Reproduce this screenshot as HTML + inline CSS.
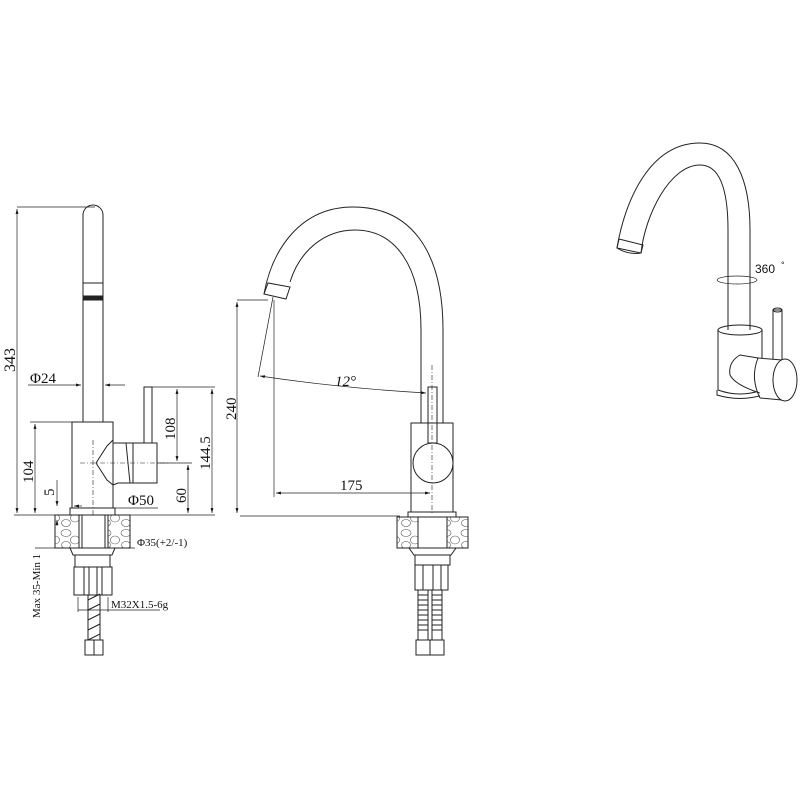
<!DOCTYPE html>
<html><head><meta charset="utf-8"><style>
html,body{margin:0;padding:0;background:#fff}
svg{display:block}
text{font-family:"Liberation Serif",serif;fill:#111}
</style></head><body>
<svg width="800" height="800" viewBox="0 0 800 800" xmlns="http://www.w3.org/2000/svg">
<defs>
<marker id="a" viewBox="0 0 10 10" refX="10" refY="5" markerWidth="7" markerHeight="7" orient="auto-start-reverse"><path d="M0,2 L10,5 L0,8 z" fill="#111"/></marker>
<pattern id="peb" width="20" height="22" patternUnits="userSpaceOnUse">
<rect width="20" height="22" fill="#fff"/>
<ellipse cx="6" cy="5" rx="5" ry="3.5" fill="none" stroke="#555" stroke-width="0.6"/>
<ellipse cx="15" cy="12" rx="4.5" ry="4" fill="none" stroke="#555" stroke-width="0.6"/>
<ellipse cx="6" cy="17" rx="4.5" ry="3.5" fill="none" stroke="#555" stroke-width="0.6"/>
</pattern>
</defs>
<g fill="none" stroke="#222" stroke-width="1">
<!-- LEFT VIEW -->
<path d="M83,422 V215 A10,10 0 0 1 103,215 V422"/>
<line x1="83" y1="283" x2="103" y2="283"/>
<rect x="83" y="296" width="20" height="4" fill="#222"/>
<rect x="72" y="422" width="41" height="86"/>
<line x1="93" y1="440" x2="93" y2="520" stroke-dasharray="5,2,1,2" stroke-width="0.6"/>
<line x1="80" y1="463" x2="170" y2="463" stroke-dasharray="5,2,1,2" stroke-width="0.6"/>
<path d="M113,440 L107,446 L96,463 L107,480 L113,485"/>
<path d="M113,443 H133 V483 H118 L113,485"/>
<line x1="126" y1="443" x2="130" y2="483"/>
<rect x="133" y="443" width="24" height="40"/>
<rect x="144" y="387" width="8" height="56"/>
<rect x="70" y="508" width="45" height="7"/>
<rect x="55" y="515" width="75" height="33" fill="url(#peb)"/>
<rect x="79" y="515" width="29" height="33" fill="#fff"/>
<line x1="82" y1="515" x2="82" y2="548"/><line x1="105" y1="515" x2="105" y2="548"/>
<path d="M70,548 H115 L112,555 H73 Z"/>
<rect x="75" y="555" width="35" height="12"/>
<rect x="74" y="567" width="38" height="28"/>
<line x1="84" y1="567" x2="84" y2="595"/><line x1="89" y1="567" x2="89" y2="595"/>
<line x1="97" y1="567" x2="97" y2="595"/><line x1="102" y1="567" x2="102" y2="595"/>
<rect x="88" y="595" width="12" height="45"/>
<path d="M88,600 L100,594 M88,610 L100,604 M88,620 L100,614 M88,630 L100,624 M88,640 L100,634"/>
<rect x="85" y="640" width="18" height="15"/>
<line x1="94" y1="640" x2="94" y2="655"/>
<g stroke-width="0.7">
<line x1="17" y1="207" x2="95" y2="207"/>
<line x1="17" y1="209" x2="17" y2="513" marker-start="url(#a)" marker-end="url(#a)"/>
<line x1="14" y1="515" x2="215" y2="515"/>
<line x1="30" y1="422" x2="72" y2="422"/>
<line x1="35" y1="424" x2="35" y2="513" marker-start="url(#a)" marker-end="url(#a)"/>
<line x1="57" y1="480" x2="57" y2="506" marker-end="url(#a)"/>
<line x1="28" y1="385" x2="81" y2="385" marker-end="url(#a)"/>
<line x1="125" y1="385" x2="105" y2="385" marker-end="url(#a)"/>
<line x1="152" y1="387" x2="215" y2="387"/>
<line x1="157" y1="463" x2="192" y2="463"/>
<line x1="177" y1="389" x2="177" y2="461" marker-start="url(#a)" marker-end="url(#a)"/>
<line x1="188" y1="465" x2="188" y2="513" marker-start="url(#a)" marker-end="url(#a)"/>
<line x1="212" y1="389" x2="212" y2="513" marker-start="url(#a)" marker-end="url(#a)"/>
<line x1="74" y1="508" x2="158" y2="508"/>
<line x1="74" y1="506" x2="82" y2="506" marker-start="url(#a)"/>
<line x1="35" y1="548" x2="135" y2="548"/>
<line x1="57" y1="520" x2="57" y2="526" marker-start="url(#a)"/>
<line x1="78" y1="597" x2="78" y2="612"/><line x1="108" y1="597" x2="108" y2="612"/>
<line x1="78" y1="610" x2="160" y2="610"/>
<line x1="237" y1="300" x2="268" y2="300"/>
<line x1="237" y1="302" x2="237" y2="513" marker-start="url(#a)" marker-end="url(#a)"/>
</g>
<!-- MIDDLE VIEW -->
<path d="M264,294 C272,250 300,207 353,207 C410,207 443,250 443,330 V423"/>
<path d="M290,282 C300,250 325,230 355,230 C395,230 421,265 421,330 V423"/>
<path d="M264,294 L268,283 L290,287 L286,299 Z"/>
<rect x="411" y="423" width="42" height="89"/>
<rect x="428" y="387" width="9" height="56"/>
<circle cx="433" cy="463" r="20" fill="#fff"/>
<line x1="432" y1="365" x2="432" y2="515" stroke-dasharray="5,2,1,2" stroke-width="0.6"/>
<rect x="408" y="512" width="48" height="5"/>
<rect x="397" y="517" width="71" height="31" fill="url(#peb)"/>
<rect x="418" y="517" width="29" height="31" fill="#fff"/>
<path d="M409,548 H456 L451,555 H414 Z"/>
<rect x="415" y="555" width="35" height="10"/>
<rect x="415" y="565" width="33" height="25"/>
<line x1="423" y1="565" x2="423" y2="590"/><line x1="433" y1="565" x2="433" y2="590"/><line x1="441" y1="565" x2="441" y2="590"/>
<rect x="418" y="590" width="10" height="50"/><rect x="432" y="590" width="10" height="50"/>
<path d="M418,595 H428 M418,600 H428 M418,605 H428 M418,610 H428 M418,615 H428 M418,620 H428 M418,625 H428 M418,630 H428 M432,595 H442 M432,600 H442 M432,605 H442 M432,610 H442 M432,615 H442 M432,620 H442 M432,625 H442 M432,630 H442"/>
<rect x="416" y="640" width="14" height="15"/><rect x="430" y="640" width="14" height="15"/>
<g stroke-width="0.7">
<line x1="240" y1="516" x2="400" y2="516"/>
<line x1="273" y1="297" x2="258" y2="377"/>
<path d="M260,376 Q340,388 426,393" marker-start="url(#a)" marker-end="url(#a)"/>
<line x1="274" y1="300" x2="274" y2="497"/>
<line x1="276" y1="493" x2="430" y2="493" marker-start="url(#a)" marker-end="url(#a)"/>
</g>
<!-- RIGHT VIEW -->
<path d="M617,248 C625,200 650,143 700,143 C735,143 750,180 750,230 V330"/>
<path d="M641,253 C645,215 670,165 700,165 C720,165 728,190 728,230 V330"/>
<path d="M617,248 L619,239 L643,245 L641,253 Z"/>
<path d="M617,248 Q628,255 641,253"/>
<ellipse cx="737" cy="280" rx="20" ry="4" stroke-width="0.7"/>
<path d="M718,330 V390 M762,330 V390"/>
<ellipse cx="740" cy="330" rx="22" ry="5"/>
<path d="M718,390 Q740,398 762,390"/>
<path d="M717,390 V395 Q740,402 763,395 V390"/>
<rect x="773" y="310" width="9" height="55"/>
<ellipse cx="777.5" cy="310" rx="4.5" ry="2"/>
<path d="M758,358 L740,355 Q728,362 730,375 Q735,385 760,393" fill="#fff"/>
<path d="M758,358 L782,360 L783,400 L760,398 Z" fill="#fff" stroke="none"/>
<line x1="758" y1="358" x2="782" y2="360"/>
<line x1="760" y1="398" x2="782" y2="400"/>
<path d="M758,358 Q750,378 760,398"/>
<ellipse cx="785" cy="380" rx="12" ry="21" fill="#fff"/>
</g>
<g font-size="15">
<text transform="translate(15,372) rotate(-90)" font-size="16">343</text>
<text x="30" y="383">Φ24</text>
<text transform="translate(33,483) rotate(-90)">104</text>
<text transform="translate(54,496) rotate(-90)">5</text>
<text transform="translate(175,440) rotate(-90)">108</text>
<text transform="translate(186,503) rotate(-90)">60</text>
<text transform="translate(210,470) rotate(-90)">144.5</text>
<text transform="translate(236,420) rotate(-90)">240</text>
<text x="128" y="505">Φ50</text>
<text x="137" y="546" font-size="11">Φ35(+2/-1)</text>
<text transform="translate(40,618) rotate(-90)" font-size="11">Max 35-Min 1</text>
<text x="111" y="608" font-size="11">M32X1.5-6g</text>
<text x="335" y="386" font-style="italic">12°</text>
<text x="340" y="490">175</text>
<text x="755" y="273" font-size="12" style="font-family:'Liberation Sans',sans-serif">360</text>
<text x="781" y="268" font-size="9" style="font-family:'Liberation Sans',sans-serif">°</text>
</g>
</svg>
</body></html>
